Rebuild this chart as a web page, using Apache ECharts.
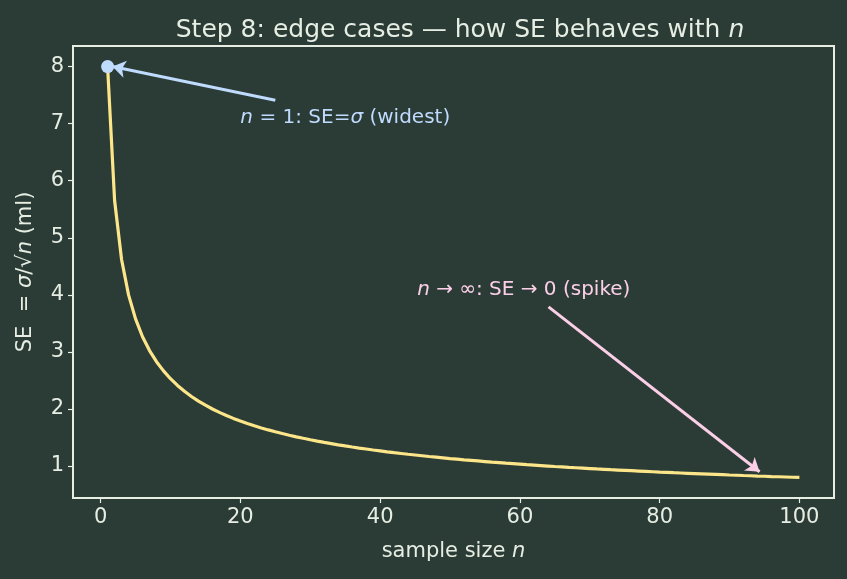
<!DOCTYPE html>
<html>
  <head>
    <meta charset="utf-8" />
    <script src="https://cdn.jsdelivr.net/npm/echarts@6.0.0/dist/echarts.min.js"></script>
    <style>
      html, body { margin: 0; padding: 0; background: #2b3b35; }
    </style>
  </head>
  <body>
    <div id="main" style="width: 847px; height: 579px"></div>

    <script type="text/javascript">
      // sample sizes n = 1..100
      var sampleSizes = [
        1, 2, 3, 4, 5, 6, 7, 8, 9, 10, 11, 12, 13, 14, 15, 16, 17, 18, 19, 20,
        21, 22, 23, 24, 25, 26, 27, 28, 29, 30, 31, 32, 33, 34, 35, 36, 37, 38, 39, 40,
        41, 42, 43, 44, 45, 46, 47, 48, 49, 50, 51, 52, 53, 54, 55, 56, 57, 58, 59, 60,
        61, 62, 63, 64, 65, 66, 67, 68, 69, 70, 71, 72, 73, 74, 75, 76, 77, 78, 79, 80,
        81, 82, 83, 84, 85, 86, 87, 88, 89, 90, 91, 92, 93, 94, 95, 96, 97, 98, 99, 100
      ];
      // standard error (ml)
      var seValues = [
        8.000, 5.657, 4.619, 4.000, 3.578, 3.266, 3.024, 2.828, 2.667, 2.530,
        2.412, 2.309, 2.219, 2.138, 2.066, 2.000, 1.940, 1.886, 1.835, 1.789,
        1.746, 1.706, 1.668, 1.633, 1.600, 1.569, 1.540, 1.512, 1.486, 1.461,
        1.437, 1.414, 1.393, 1.372, 1.352, 1.333, 1.315, 1.298, 1.281, 1.265,
        1.249, 1.234, 1.220, 1.206, 1.193, 1.180, 1.167, 1.155, 1.143, 1.131,
        1.120, 1.109, 1.099, 1.089, 1.079, 1.069, 1.060, 1.050, 1.042, 1.033,
        1.024, 1.016, 1.008, 1.000, 0.992, 0.985, 0.977, 0.970, 0.963, 0.956,
        0.949, 0.943, 0.936, 0.930, 0.924, 0.918, 0.912, 0.906, 0.900, 0.894,
        0.889, 0.883, 0.878, 0.873, 0.868, 0.863, 0.858, 0.853, 0.848, 0.843,
        0.839, 0.834, 0.830, 0.825, 0.821, 0.816, 0.812, 0.808, 0.804, 0.800
      ];
      var highlightPoint = [1, 8];
      var xTicks = [0, 20, 40, 60, 80, 100];
      var yTicks = [1, 2, 3, 4, 5, 6, 7, 8];

      var fg = "#e6eee4";
      var font = "DejaVu Sans";

      var chart = echarts.init(document.getElementById("main"));

      function italic(size, color) {
        return { i: { fontStyle: "italic", fontSize: size, color: color, fontFamily: font } };
      }

      var option = {
        backgroundColor: "#2b3b35",
        animation: false,
        textStyle: { fontFamily: font, color: fg },
        title: {
          text: "Step 8: edge cases \u2014 how SE behaves with {i|n}",
          left: 455,
          textAlign: "center",
          top: 13,
          textStyle: {
            fontFamily: font,
            fontWeight: "normal",
            fontSize: 25,
            color: fg,
            rich: italic(25, fg)
          }
        },
        grid: {
          left: 73,
          right: 13,
          top: 46,
          bottom: 81,
          show: true,
          borderColor: fg,
          borderWidth: 2,
          containLabel: false
        },
        xAxis: {
          type: "value",
          min: -3.95,
          max: 104.95,
          name: "sample size {i|n}",
          nameLocation: "middle",
          nameGap: 43,
          nameTextStyle: { fontSize: 21, color: fg, fontFamily: font, rich: italic(21, fg) },
          axisLine: { show: false, onZero: false },
          splitLine: { show: false },
          axisTick: { show: true, customValues: xTicks, length: 5, lineStyle: { color: fg, width: 1.2 } },
          axisLabel: { customValues: xTicks, fontSize: 21, color: fg, margin: 9, fontFamily: font }
        },
        yAxis: {
          type: "value",
          min: 0.44,
          max: 8.36,
          name: "SE  = {i|\u03c3}/\u221a{i|n} (ml)",
          nameLocation: "middle",
          nameGap: 37,
          nameRotate: 90,
          nameTextStyle: { fontSize: 21, color: fg, fontFamily: font, rich: italic(21, fg) },
          axisLine: { show: false, onZero: false },
          splitLine: { show: false },
          axisTick: { show: true, customValues: yTicks, length: 5, lineStyle: { color: fg, width: 1.2 } },
          axisLabel: { customValues: yTicks, fontSize: 21, color: fg, margin: 9, fontFamily: font }
        },
        series: [
          {
            type: "line",
            data: sampleSizes.map(function (n, i) { return [n, seValues[i]]; }),
            showSymbol: false,
            smooth: false,
            lineStyle: { color: "#fde68a", width: 3.2 },
            z: 3,
            markLine: {
              silent: true,
              symbol: ["none", "arrow"],
              symbolSize: 13,
              label: { show: false },
              data: [
                [
                  { coord: [25, 7.41], lineStyle: { color: "#bfdbfe", width: 3, type: "solid" } },
                  { coord: [1.7, 8] }
                ],
                [
                  { coord: [64.1, 3.79], lineStyle: { color: "#fbcfe8", width: 3, type: "solid" } },
                  { coord: [94.3, 0.9] }
                ]
              ]
            },
            markPoint: {
              silent: true,
              symbol: "circle",
              symbolSize: 0,
              data: [
                {
                  coord: [20, 7.11],
                  label: {
                    show: true,
                    position: "right",
                    distance: 0,
                    formatter: "{i|n} = 1: SE={i|\u03c3} (widest)",
                    fontSize: 20,
                    color: "#bfdbfe",
                    fontFamily: font,
                    rich: italic(20, "#bfdbfe")
                  }
                },
                {
                  coord: [45.3, 4.09],
                  label: {
                    show: true,
                    position: "right",
                    distance: 0,
                    formatter: "{i|n} \u2192 \u221e: SE \u2192 0 (spike)",
                    fontSize: 20,
                    color: "#fbcfe8",
                    fontFamily: font,
                    rich: italic(20, "#fbcfe8")
                  }
                }
              ]
            }
          },
          {
            type: "scatter",
            data: [highlightPoint],
            symbolSize: 13,
            itemStyle: { color: "#bfdbfe", opacity: 1 },
            z: 5
          }
        ]
      };

      chart.setOption(option);
    </script>
  </body>
</html>
